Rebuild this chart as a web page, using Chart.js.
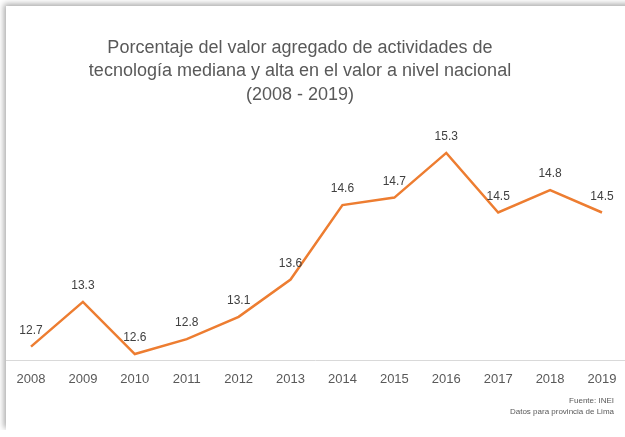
<!DOCTYPE html>
<html lang="es">
<head>
<meta charset="utf-8">
<title>Valor agregado de tecnología mediana y alta</title>
<script src="https://cdn.jsdelivr.net/npm/chart.js@4.4.1/dist/chart.umd.min.js"></script>
<style>
  html, body { margin: 0; padding: 0; background: #fff; overflow: hidden; }
  #wrap { position: relative; width: 625px; height: 437px; }
  #card {
    position: absolute; left: 6px; top: 6px; width: 660px; height: 424px;
    background: #fff;
    box-shadow: -2px -2px 6px rgba(0, 0, 0, 0.35);
    clip-path: inset(-12px -12px 0 -12px);
  }
  #chart { position: absolute; left: 0; top: 0; }
</style>
</head>
<body>
<div id="wrap">
  <div id="card"></div>
  <canvas id="chart" width="625" height="437"></canvas>
</div>
<script>
// Años y porcentaje del valor agregado
const years = ['2008', '2009', '2010', '2011', '2012', '2013', '2014', '2015', '2016', '2017', '2018', '2019'];
const shares = [12.7, 13.3, 12.6, 12.8, 13.1, 13.6, 14.6, 14.7, 15.3, 14.5, 14.8, 14.5];
const titleLines = [
  'Porcentaje del valor agregado de actividades de',
  'tecnología mediana y alta en el valor a nivel nacional',
  '(2008 - 2019)'
];
const footerLines = ['Fuente: INEI', 'Datos para provincia de Lima'];

const FONT = '"Liberation Sans", Arial, sans-serif';

// Title, baseline, value labels and source note
const decorations = {
  id: 'decorations',
  beforeDatasetsDraw(chart) {
    const c = chart.ctx;
    const y = chart.scales.y.getPixelForValue(chart.scales.y.min);
    c.save();
    c.strokeStyle = '#d9d9d9';
    c.lineWidth = 1;
    c.beginPath();
    c.moveTo(6, Math.round(y) + 0.5);
    c.lineTo(chart.width, Math.round(y) + 0.5);
    c.stroke();
    c.restore();
  },
  afterDatasetsDraw(chart) {
    const c = chart.ctx;
    c.save();
    // title
    c.fillStyle = '#595959';
    c.font = '18px ' + FONT;
    c.textAlign = 'center';
    c.textBaseline = 'middle';
    titleLines.forEach((t, i) => c.fillText(t, 300, 48 + i * 23.5));

    // value labels
    c.fillStyle = '#404040';
    c.font = '12px ' + FONT;
    const meta = chart.getDatasetMeta(0);
    meta.data.forEach((pt, i) => {
      c.fillText(shares[i].toFixed(1), pt.x, pt.y - 16);
    });

    // source note
    c.fillStyle = '#595959';
    c.font = '8px ' + FONT;
    c.textAlign = 'right';
    footerLines.forEach((t, i) => c.fillText(t, 614, 401 + i * 11));
    c.restore();
  }
};

new Chart(document.getElementById('chart'), {
  type: 'line',
  data: {
    labels: years,
    datasets: [{
      data: shares,
      borderColor: '#ED7D31',
      borderWidth: 2.5,
      pointRadius: 0,
      tension: 0,
      fill: false
    }]
  },
  options: {
    responsive: false,
    animation: false,
    layout: { padding: { left: 31, right: 23, top: 138, bottom: 0 } },
    plugins: {
      legend: { display: false },
      title: { display: false },
      tooltip: { enabled: false }
    },
    scales: {
      x: {
        offset: false,
        grid: { display: false },
        border: { display: false },
        ticks: {
          color: '#595959',
          font: { family: FONT, size: 13 },
          padding: 4,
          maxRotation: 0,
          autoSkip: false
        },
        afterFit(scale) { scale.height = 77; }
      },
      y: {
        display: false,
        min: 12.52,
        max: 15.5
      }
    }
  },
  plugins: [decorations]
});
</script>
</body>
</html>
